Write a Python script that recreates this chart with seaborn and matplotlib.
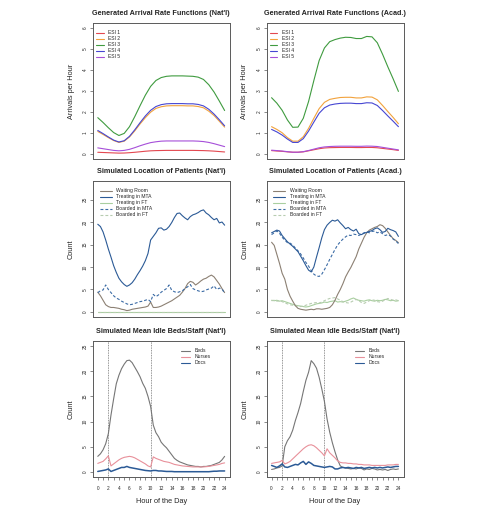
import numpy as np
import pandas as pd
import matplotlib
matplotlib.use("Agg")
import matplotlib.pyplot as plt
from matplotlib.lines import Line2D
import seaborn as sns

# ---------------- data ----------------
HOURS = list(range(25))                       # hourly grid (arrival rates)
HALF_HOURS = [h / 2 for h in range(49)]       # half-hour grid (simulations)

ESI_LABELS = ["ESI 1", "ESI 2", "ESI 3", "ESI 4", "ESI 5"]
NAT_ESI1 = [0.08,0.07,0.06,0.05,0.04,0.045,0.06,0.08,0.105,0.13,0.15,0.16,0.165,0.17,0.17,0.17,0.17,0.17,0.17,0.165,0.16,0.15,0.135,0.115,0.095]
NAT_ESI2 = [1.07,0.93,0.78,0.64,0.55,0.61,0.81,1.10,1.43,1.73,1.99,2.17,2.25,2.29,2.30,2.30,2.30,2.29,2.29,2.26,2.20,2.04,1.83,1.56,1.28]
NAT_ESI3 = [1.73,1.50,1.25,1.02,0.88,0.98,1.30,1.78,2.30,2.80,3.22,3.50,3.64,3.70,3.72,3.72,3.72,3.71,3.70,3.66,3.55,3.30,2.95,2.52,2.07]
NAT_ESI4 = [1.12,0.97,0.81,0.66,0.57,0.63,0.84,1.15,1.49,1.81,2.08,2.26,2.35,2.39,2.40,2.40,2.40,2.39,2.39,2.36,2.29,2.13,1.90,1.63,1.34]
NAT_ESI5 = [0.29,0.25,0.21,0.17,0.15,0.17,0.22,0.30,0.39,0.47,0.54,0.58,0.61,0.62,0.62,0.62,0.62,0.62,0.62,0.61,0.59,0.55,0.49,0.42,0.35]

AC_ESI1 = [0.16,0.14,0.125,0.10,0.083,0.083,0.10,0.15,0.20,0.25,0.285,0.30,0.305,0.31,0.31,0.31,0.305,0.305,0.31,0.31,0.295,0.265,0.235,0.205,0.17]
AC_ESI2 = [1.30,1.17,1.01,0.78,0.61,0.61,0.82,1.22,1.70,2.16,2.46,2.60,2.65,2.69,2.70,2.70,2.67,2.67,2.72,2.71,2.58,2.31,2.02,1.74,1.44]
AC_ESI3 = [2.68,2.42,2.08,1.62,1.27,1.28,1.70,2.50,3.50,4.45,5.05,5.35,5.45,5.52,5.56,5.55,5.50,5.50,5.60,5.58,5.30,4.75,4.15,3.58,2.98]
AC_ESI4 = [1.17,1.05,0.90,0.71,0.55,0.55,0.73,1.09,1.52,1.94,2.20,2.33,2.38,2.41,2.42,2.42,2.40,2.40,2.44,2.43,2.31,2.07,1.81,1.56,1.30]
AC_ESI5 = [0.18,0.16,0.14,0.11,0.083,0.083,0.11,0.165,0.23,0.295,0.335,0.355,0.365,0.37,0.37,0.37,0.365,0.365,0.375,0.37,0.355,0.315,0.275,0.235,0.195]

LOC_LABELS = ["Waiting Room", "Treating in MTA", "Treating in FT", "Boarded in MTA", "Boarded in FT"]
NAT_WAIT = [4.4,3.6,2.6,1.6,1.2,1.0,1.0,0.9,0.8,0.6,0.5,0.3,0.4,0.6,0.7,0.8,0.9,1.0,1.1,1.3,2.2,1.0,1.0,1.1,1.3,1.6,1.9,2.2,2.5,2.9,3.3,3.7,4.4,5.2,6.3,6.8,6.6,6.0,6.4,6.9,7.3,7.5,7.9,8.2,7.8,7.0,6.2,5.2,4.3]
NAT_TREAT_MTA = [19.5,19.0,17.8,16.0,14.0,12.2,10.3,8.8,7.5,6.7,6.1,5.7,6.0,6.5,7.3,8.3,9.2,10.2,11.4,13.0,16.0,16.8,17.6,18.6,18.7,18.2,18.4,19.0,19.9,21.0,21.9,22.0,21.4,20.9,20.5,21.2,21.6,21.8,22.1,22.5,22.7,22.0,21.6,21.0,20.5,20.8,19.8,20.0,19.3]
NAT_TREAT_FT = [0.0] * 49
NAT_BOARD_MTA = [4.3,4.7,4.9,6.0,5.0,4.3,3.6,3.1,2.8,2.4,2.1,1.8,1.6,1.7,1.9,2.1,2.3,2.4,2.6,2.8,2.3,3.9,3.4,3.8,4.4,4.8,5.2,6.0,4.8,4.5,4.3,4.5,4.7,5.2,5.6,6.1,5.2,4.9,4.7,4.5,4.6,4.9,5.1,5.3,5.8,5.0,5.3,5.1,4.2]
NAT_BOARD_FT = [0.0] * 49

AC_WAIT = [15.5,14.8,12.8,10.8,8.6,7.3,5.0,3.5,2.4,1.4,0.8,0.6,0.5,0.4,0.5,0.6,0.5,0.7,0.7,0.6,0.7,0.8,1.0,1.6,2.6,3.9,5.0,6.3,7.8,8.9,9.9,11.1,12.3,14.0,15.3,16.6,17.6,18.2,18.5,18.8,19.0,19.4,19.2,18.6,17.8,17.0,16.3,15.9,15.4]
AC_TREAT_MTA = [17.6,17.9,18.2,18.0,17.0,16.3,15.6,15.1,14.6,14.0,13.4,12.4,11.4,10.3,9.3,8.9,10.0,12.2,14.3,16.5,18.3,19.3,19.9,20.4,20.2,20.5,19.8,19.2,18.5,18.8,18.3,18.0,18.4,17.4,17.2,17.5,17.7,17.9,18.1,18.5,18.7,18.3,17.7,17.9,18.6,18.3,18.1,17.8,16.8]
AC_TREAT_FT = [2.6,2.5,2.6,2.4,2.5,2.3,2.1,1.9,1.7,1.5,1.4,1.3,1.2,1.1,1.2,1.4,1.6,1.8,1.9,2.0,2.2,2.1,2.3,2.4,2.5,2.2,2.3,2.2,2.4,2.6,2.9,3.1,2.8,2.6,2.5,2.4,2.6,2.7,2.5,2.4,2.6,2.5,2.6,2.8,2.7,2.5,2.6,2.4,2.5]
AC_BOARD_MTA = [17.2,17.6,18.0,17.5,16.6,16.0,15.4,15.3,14.9,14.2,13.6,12.9,12.0,11.0,10.2,9.2,8.4,8.0,7.9,8.4,9.4,10.5,11.7,12.8,13.9,14.9,15.6,16.2,16.7,17.1,17.0,17.3,17.2,17.0,17.3,17.6,17.8,17.6,17.9,18.0,17.6,17.8,17.4,17.0,17.2,16.9,16.2,15.8,15.2]
AC_BOARD_FT = [2.5,2.6,2.4,2.5,2.3,2.0,1.8,1.6,1.5,1.4,1.3,1.2,1.3,1.5,1.7,1.9,2.0,2.1,2.0,2.2,2.5,2.8,3.0,3.1,3.2,2.9,2.6,2.3,2.1,2.0,2.2,2.5,2.8,2.5,2.1,1.9,2.2,2.5,2.7,2.6,2.3,2.2,2.4,2.7,3.0,2.8,2.6,2.7,2.5]

IDLE_LABELS = ["Beds", "Nurses", "Docs"]
NAT_BEDS = [3.1,3.6,4.4,5.6,7.6,11.3,14.5,17.5,19.2,20.5,21.4,22.1,22.2,21.7,20.8,19.9,18.9,17.6,16.6,15.0,13.0,9.3,7.8,7.0,5.9,5.3,4.8,4.1,3.4,2.7,2.3,2.0,1.8,1.6,1.4,1.3,1.2,1.1,1.1,1.0,1.1,1.1,1.2,1.3,1.5,1.7,1.9,2.4,3.1]
NAT_NURSES = [1.7,1.9,2.1,2.6,3.2,1.2,1.6,2.0,2.4,2.7,2.9,3.0,3.1,3.0,2.8,2.5,2.2,1.9,1.6,1.2,1.0,3.0,2.7,2.5,2.3,2.1,2.0,1.9,1.7,1.5,1.4,1.3,1.2,1.15,1.1,1.05,1.0,1.0,1.0,1.0,1.0,1.05,1.1,1.2,1.3,1.4,1.5,1.7,1.8]
NAT_DOCS = [0.1,0.2,0.3,0.4,0.6,0.1,0.3,0.5,0.7,0.9,0.9,1.1,0.9,0.8,0.7,0.6,0.5,0.4,0.3,0.25,0.2,0.3,0.3,0.2,0.2,0.15,0.1,0.1,0.1,0.05,0.05,0.05,0.05,0.05,0.05,0.05,0.05,0.05,0.05,0.05,0.05,0.05,0.05,0.1,0.15,0.15,0.2,0.2,0.2]

AC_BEDS = [0.5,0.6,0.8,0.9,1.2,5.0,6.2,7.0,8.3,10.2,11.8,13.6,16.0,18.2,19.8,22.1,21.5,20.6,18.8,16.5,14.0,10.5,7.9,5.8,4.0,2.4,1.2,0.9,0.8,0.7,0.6,0.7,0.6,0.8,0.7,0.4,0.6,0.5,0.7,0.6,0.4,0.5,0.4,0.5,0.3,0.5,0.6,0.5,0.6]
AC_NURSES = [1.7,1.8,1.9,2.0,2.3,1.6,1.8,2.1,2.6,3.1,3.6,4.1,4.6,5.0,5.3,5.4,5.2,4.8,4.3,3.8,3.2,4.6,3.8,3.3,2.8,2.2,1.9,1.8,1.8,1.7,1.7,1.6,1.6,1.5,1.5,1.4,1.4,1.4,1.3,1.3,1.3,1.3,1.3,1.3,1.4,1.4,1.4,1.5,1.5]
AC_DOCS = [1.3,1.1,0.9,1.2,1.6,1.0,0.9,1.1,1.3,1.5,1.4,1.8,2.1,1.5,2.0,1.7,1.3,1.2,1.1,1.0,0.9,1.0,1.1,1.0,0.6,0.6,0.8,0.9,0.8,0.9,0.8,0.7,0.9,0.8,0.9,0.7,0.8,0.9,0.8,0.9,0.8,0.9,0.8,0.9,1.0,0.9,1.0,1.1,1.1]

SHIFT_CHANGES = [2, 10]

TITLES = ["Generated Arrival Rate Functions (Nat'l)", "Generated Arrival Rate Functions (Acad.)",
          "Simulated Location of Patients (Nat'l)", "Simulated Location of Patients (Acad.)",
          "Simulated Mean Idle Beds/Staff (Nat'l)", "Simulated Mean Idle Beds/Staff (Nat'l)"]

# ---------------- styles ----------------
ESI_COLORS = dict(zip(ESI_LABELS, ["#E34850", "#F2A23C", "#3F9B3F", "#4646D2", "#A64FD9"]))
LOC_COLORS = dict(zip(LOC_LABELS, ["#8C8073", "#2B5A96", "#A9CFA0", "#3B6BA5", "#B7CCB0"]))
LOC_DASH = dict(zip(LOC_LABELS, ["", "", "", (2.6, 1.8), (2.6, 1.8)]))
IDLE_COLORS = dict(zip(IDLE_LABELS, ["#767676", "#E8909A", "#2B5A96"]))

sns.set_style("ticks")
plt.rcParams['font.family'] = ['Liberation Sans', 'DejaVu Sans']

W, H = 478, 505
fig = plt.figure(figsize=(W / 100, H / 100), dpi=100)

COL_L = [92.7, 266.5]
COL_W = 137.0
ROW_TOP = [23.0, 181.0, 341.0]
ROW_H = 136.0

TITLE_FS = 5.25
LAB_FS = 5.3
TICK_FS = 3.4
LEG_FS = 3.6


def make_ax(r, c):
    return fig.add_axes([COL_L[c] / W, 1 - (ROW_TOP[r] + ROW_H) / H, COL_W / W, ROW_H / H])


def style_ax(ax, yticks, ylim, ylabel, title, xaxis=False):
    ax.set_xlim(-0.96, 24.96)
    ax.set_ylim(*ylim)
    ax.set_yticks(yticks)
    ax.set_yticklabels([str(t) for t in yticks])
    for s in ax.spines.values():
        s.set_visible(True)
        s.set_color("#5a5a5a")
        s.set_linewidth(0.7)
    ax.tick_params(axis="y", direction="out", length=2.2, width=0.5, color="#5a5a5a",
                   labelsize=TICK_FS, pad=1.2, labelrotation=90)
    for lab in ax.get_yticklabels():
        lab.set_verticalalignment("center")
    if xaxis:
        ax.set_xticks(range(25))
        ax.set_xticklabels([str(h) if h % 2 == 0 else "" for h in range(25)])
        ax.tick_params(axis="x", direction="out", length=2.2, width=0.5, color="#5a5a5a",
                       labelsize=TICK_FS, pad=4.5)
        ax.set_xlabel("Hour of the Day", fontsize=LAB_FS, labelpad=4.5)
    else:
        ax.set_xticks([])
        ax.set_xlabel("")
    ax.set_ylabel(ylabel, fontsize=LAB_FS, labelpad=6)
    ax.set_title(title, fontsize=TITLE_FS, fontweight="bold", pad=6)


def long_df(x, series):
    frames = [pd.DataFrame({"hour": x, "value": v, "series": k}) for k, v in series.items()]
    return pd.concat(frames, ignore_index=True)


def add_legend(ax, labels, colors, dashes, anchor, hlen):
    handles = []
    for lab in labels:
        d = dashes.get(lab, "") if dashes else ""
        h = Line2D([0], [0], color=colors[lab], lw=0.8)
        if d:
            h.set_dashes(d)
        handles.append(h)
    ax.legend(handles, labels, loc="upper left", bbox_to_anchor=anchor, frameon=False,
              fontsize=LEG_FS, handlelength=hlen, handletextpad=0.9, labelspacing=0.2,
              borderpad=0, borderaxespad=0)


# ---------- row 1: arrival rates ----------
esi_sets = [dict(zip(ESI_LABELS, [NAT_ESI1, NAT_ESI2, NAT_ESI3, NAT_ESI4, NAT_ESI5])),
            dict(zip(ESI_LABELS, [AC_ESI1, AC_ESI2, AC_ESI3, AC_ESI4, AC_ESI5]))]
for c in range(2):
    ax = make_ax(0, c)
    df = long_df(HOURS, esi_sets[c])
    sns.lineplot(data=df, x="hour", y="value", hue="series", hue_order=ESI_LABELS,
                 palette=ESI_COLORS, estimator=None, sort=False, linewidth=0.8,
                 legend=False, ax=ax)
    style_ax(ax, list(range(7)), (-0.24, 6.24), "Arrivals per Hour", TITLES[c])
    add_legend(ax, ESI_LABELS, ESI_COLORS, None, (0.025, 0.945), 1.5)

# ---------- row 2: patient locations ----------
loc_sets = [dict(zip(LOC_LABELS, [NAT_WAIT, NAT_TREAT_MTA, NAT_TREAT_FT, NAT_BOARD_MTA, NAT_BOARD_FT])),
            dict(zip(LOC_LABELS, [AC_WAIT, AC_TREAT_MTA, AC_TREAT_FT, AC_BOARD_MTA, AC_BOARD_FT]))]
draw_order = ["Treating in FT", "Boarded in FT", "Waiting Room", "Boarded in MTA", "Treating in MTA"]
for c in range(2):
    ax = make_ax(1, c)
    df = long_df(HALF_HOURS, loc_sets[c])
    sns.lineplot(data=df, x="hour", y="value", hue="series", style="series",
                 hue_order=draw_order, style_order=draw_order,
                 palette=LOC_COLORS, dashes=LOC_DASH, estimator=None, sort=False,
                 linewidth=0.8, legend=False, ax=ax)
    style_ax(ax, [0, 5, 10, 15, 20, 25], (-1.12, 29.12), "Count", TITLES[2 + c])
    add_legend(ax, LOC_LABELS, LOC_COLORS, LOC_DASH, (0.05, 0.945), 2.4)

# ---------- row 3: idle resources ----------
idle_sets = [dict(zip(IDLE_LABELS, [NAT_BEDS, NAT_NURSES, NAT_DOCS])),
             dict(zip(IDLE_LABELS, [AC_BEDS, AC_NURSES, AC_DOCS]))]
for c in range(2):
    ax = make_ax(2, c)
    for x in SHIFT_CHANGES:
        ax.axvline(x, color="#555555", lw=0.5, ls=(0, (1.2, 1.2)))
    df = long_df(HALF_HOURS, idle_sets[c])
    sns.lineplot(data=df, x="hour", y="value", hue="series", hue_order=IDLE_LABELS,
                 palette=IDLE_COLORS, estimator=None, sort=False, linewidth=0.8,
                 legend=False, ax=ax)
    for ln in ax.get_lines()[-1:]:
        ln.set_linewidth(1.1)
    style_ax(ax, [0, 5, 10, 15, 20, 25], (-1.0, 26.0), "Count", TITLES[4 + c], xaxis=True)
    add_legend(ax, IDLE_LABELS, IDLE_COLORS, None, (0.645, 0.945), 1.8)

fig.savefig("out.png", dpi=100)
